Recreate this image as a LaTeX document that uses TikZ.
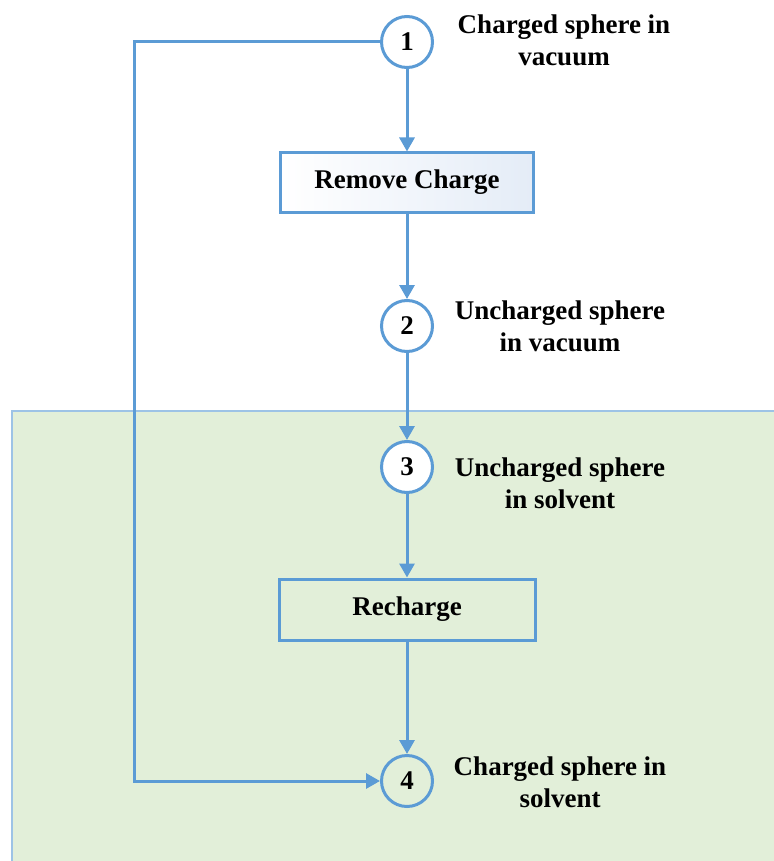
\documentclass[tikz,border=0pt]{standalone}
\usepackage{fontspec}
\setmainfont{Liberation Serif}
\usetikzlibrary{arrows.meta}
\definecolor{lineblue}{HTML}{5B9BD5}
\definecolor{bggreen}{HTML}{E2EFD9}
\definecolor{paleblue}{HTML}{E4ECF7}
\begin{document}
\begin{tikzpicture}[x=1pt,y=-1pt,
  state/.style={circle,draw=lineblue,line width=3pt,minimum size=51pt,inner sep=0pt,
    font=\fontsize{27}{30}\selectfont\bfseries},
  process/.style={rectangle,draw=lineblue,line width=3pt,inner sep=0pt,
    font=\fontsize{27}{30}\selectfont\bfseries},
  lbl/.style={align=center,font=\fontsize{27}{32}\selectfont\bfseries},
  flow/.style={draw=lineblue,line width=3pt,-{Triangle[length=14pt,width=15pt]}}]
\useasboundingbox (0,0) rectangle (773,861);
% background region
\fill[bggreen] (12,411) rectangle (776,864);
\draw[lineblue!60,line width=2pt] (12,864) -- (12,411) -- (776,411);
% nodes
\node[state,fill=white] (c1) at (407,42) {1};
\node[process,minimum width=253pt,minimum height=59pt,left color=white,right color=paleblue] (rc) at (407,182.5) {Remove Charge};
\node[state,fill=white] (c2) at (407,326) {2};
\node[state,fill=white] (c3) at (407,467) {3};
\node[process,minimum width=256pt,minimum height=61pt,fill=bggreen] (re) at (407,609.5) {Recharge};
\node[state,fill=bggreen] (c4) at (407,781) {4};
% labels
\node[lbl] (l1) at (564,40) {Charged sphere in\\vacuum};
\node[lbl] (l2) at (560,326) {Uncharged sphere\\in vacuum};
\node[lbl] (l3) at (560,483) {Uncharged sphere\\in solvent};
\node[lbl] (l4) at (560,782) {Charged sphere in\\solvent};
% connectors
\coordinate (lc) at (134,42);
\draw[flow] (c1) -- (rc);
\draw[flow] (rc) -- (c2);
\draw[flow] (c2) -- (c3);
\draw[flow] (c3) -- (re);
\draw[flow] (re) -- (c4);
\draw[flow] (c1.west) -- (lc) |- (c4.west);
\end{tikzpicture}
\end{document}
